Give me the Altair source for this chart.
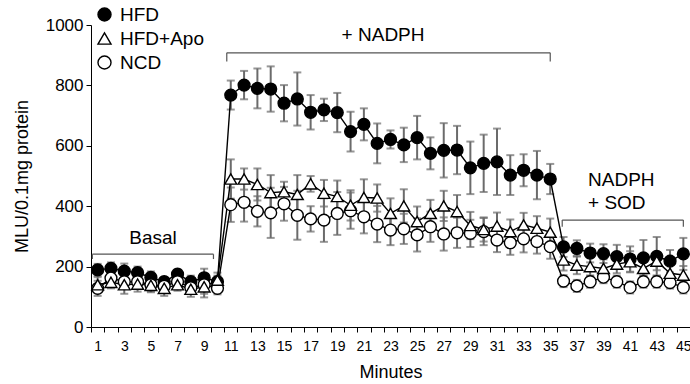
import altair as alt
import pandas as pd

FONT = "Liberation Sans"

minutes = list(range(1, 46))
groups = ["HFD", "HFD+Apo", "NCD"]

hfd = [189, 194, 185, 180, 164, 150, 175, 150, 163, 150,
       768, 801, 790, 788, 741, 755, 711, 719, 710, 647,
       671, 608, 621, 603, 627, 575, 585, 586, 527, 542,
       547, 503, 519, 503, 490, 265, 260, 245, 243, 233,
       225, 229, 234, 218, 242]
hfd_err = [20, 20, 25, 20, 20, 15, 15, 20, 30, 20,
           48, 47, 66, 75, 60, 88, 57, 37, 65, 66,
           53, 66, 30, 57, 72, 53, 90, 80, 87, 95,
           110, 66, 53, 80, 50, 33, 27, 31, 31, 39,
           42, 59, 64, 37, 53]

apo = [140, 148, 140, 142, 138, 128, 140, 125, 133, 155,
       490, 490, 472, 445, 448, 439, 474, 443, 432, 403,
       429, 427, 376, 401, 349, 376, 401, 382, 336, 323,
       334, 316, 338, 327, 314, 222, 205, 200, 194, 208,
       216, 194, 218, 178, 172]
apo_err = [25, 20, 30, 25, 20, 25, 20, 25, 35, 25,
           65, 35, 53, 58, 33, 64, 26, 44, 53, 50,
           60, 45, 50, 55, 50, 45, 50, 55, 45, 40,
           45, 40, 40, 40, 45, 35, 30, 30, 30, 30,
           35, 30, 30, 30, 30]

ncd = [128, 162, 150, 150, 140, 135, 150, 130, 140, 128,
       405, 413, 383, 378, 408, 370, 358, 354, 376, 385,
       365, 341, 321, 325, 305, 332, 308, 312, 310, 316,
       288, 279, 292, 283, 266, 152, 136, 150, 165, 150,
       131, 150, 150, 147, 131]
ncd_err = [25, 20, 20, 20, 25, 20, 20, 20, 30, 20,
           57, 64, 50, 83, 56, 81, 42, 72, 71, 60,
           55, 60, 50, 50, 55, 50, 55, 50, 45, 45,
           40, 40, 45, 40, 40, 20, 20, 20, 20, 20,
           20, 20, 20, 20, 20]

# bracket annotations (data units)
br_x1 = [0.6, 10.7, 35.9]
br_x2 = [9.7, 35.0, 45.0]
br_y = [241, 908, 354]
br_y_end = [225, 879, 332]

center_text = ["Basal", "+ NADPH"]
center_x = [5.16, 22.44]
center_y = [295, 967]

left_text = ["NADPH", "+ SOD"]
left_x = [37.84, 37.84]
left_y = [487, 410]

rows = []
for g, vals, errs in [("HFD", hfd, hfd_err), ("NCD", ncd, ncd_err), ("HFD+Apo", apo, apo_err)]:
    for m, v, e in zip(minutes, vals, errs):
        rows.append({"minute": m, "group": g, "mean": v, "lo": v - e, "hi": v + e})
df = pd.DataFrame(rows)

br = pd.DataFrame({"x1": br_x1, "x2": br_x2, "y": br_y, "yend": br_y_end})
tc = pd.DataFrame({"x": center_x, "y": center_y, "t": center_text})
tl = pd.DataFrame({"x": left_x, "y": left_y, "t": left_text})

band_px = 599 / 45.0

xscale = alt.Scale(domain=[0.5, 45.5], nice=False, zero=False)
yscale = alt.Scale(domain=[0, 1000], nice=False)

x_axis = alt.Axis(
    values=minutes, tickOffset=-band_px / 2, labelOffset=band_px / 2,
    labelExpr="datum.value % 2 == 1 ? datum.label : ''",
    labelOverlap=False, labelFlush=False, grid=False,
    title="Minutes", titleFontSize=18, titleFontWeight="normal",
    labelFontSize=14, tickSize=5, labelPadding=7, titlePadding=10,
    domainColor="black", tickColor="black", labelColor="black", titleColor="black",
)
y_axis = alt.Axis(
    values=[0, 200, 400, 600, 800, 1000], grid=False, format="d",
    title="MLU/0.1mg protein", titleFontSize=18, titleFontWeight="normal",
    labelFontSize=17, tickSize=5, labelPadding=3, titlePadding=14,
    domainColor="black", tickColor="black", labelColor="black", titleColor="black",
)


def X(field):
    return alt.X(field, scale=xscale, axis=x_axis, title="Minutes")


def Y(field):
    return alt.Y(field, scale=yscale, axis=y_axis, title="MLU/0.1mg protein")


base = alt.Chart(df)
ERR_COLOR = "#6b6b6b"

err = base.mark_rule(color=ERR_COLOR, strokeWidth=2).encode(
    x=X("minute:Q"), y=Y("lo:Q"), y2="hi:Q"
)
cap_lo = base.mark_tick(color=ERR_COLOR, size=8, thickness=2, orient="horizontal").encode(
    x=X("minute:Q"), y=Y("lo:Q")
)
cap_hi = base.mark_tick(color=ERR_COLOR, size=8, thickness=2, orient="horizontal").encode(
    x=X("minute:Q"), y=Y("hi:Q")
)

lines = base.mark_line(color="black", strokeWidth=1.4).encode(
    x=X("minute:Q"), y=Y("mean:Q"), detail="group:N", order="minute:Q"
)

leg = alt.Legend(
    orient="none", legendX=4, legendY=-20, title=None, labelFontSize=19,
    labelColor="black", symbolSize=170, symbolStrokeWidth=1.4,
    rowPadding=4, labelOffset=6,
)
points = base.mark_point(filled=True, size=140, strokeWidth=1.4, opacity=1).encode(
    x=X("minute:Q"),
    y=Y("mean:Q"),
    shape=alt.Shape("group:N", scale=alt.Scale(domain=groups, range=["circle", "triangle-up", "circle"]), legend=leg),
    fill=alt.Fill("group:N", scale=alt.Scale(domain=groups, range=["black", "white", "white"]), legend=leg),
    stroke=alt.Stroke("group:N", scale=alt.Scale(domain=groups, range=["black", "black", "black"]), legend=leg),
)

bchart = alt.Chart(br)
BR_COLOR = "#555555"
br_h = bchart.mark_rule(color=BR_COLOR, strokeWidth=1.2).encode(
    x=X("x1:Q"), x2="x2:Q", y=Y("y:Q")
)
br_l = bchart.mark_rule(color=BR_COLOR, strokeWidth=1.2).encode(
    x=X("x1:Q"), y=Y("y:Q"), y2="yend:Q"
)
br_r = bchart.mark_rule(color=BR_COLOR, strokeWidth=1.2).encode(
    x=X("x2:Q"), y=Y("y:Q"), y2="yend:Q"
)

txt_c = alt.Chart(tc).mark_text(fontSize=19, align="center", baseline="middle", color="black").encode(
    x=X("x:Q"), y=Y("y:Q"), text="t:N"
)
txt_l = alt.Chart(tl).mark_text(fontSize=19, align="left", baseline="middle", color="black").encode(
    x=X("x:Q"), y=Y("y:Q"), text="t:N"
)

chart = alt.layer(
    br_h, br_l, br_r, txt_c, txt_l, err, cap_lo, cap_hi, lines, points
).properties(
    width=599, height=302,
    autosize=alt.AutoSizeParams(type="none"),
    padding={"left": 91, "top": 25, "right": 0, "bottom": 57},
).configure(
    font=FONT,
).configure_axis(
    labelOverlap=False,
).configure_view(
    stroke=None
)

chart.save("out.html", embed_options={"renderer": "svg", "actions": False})
